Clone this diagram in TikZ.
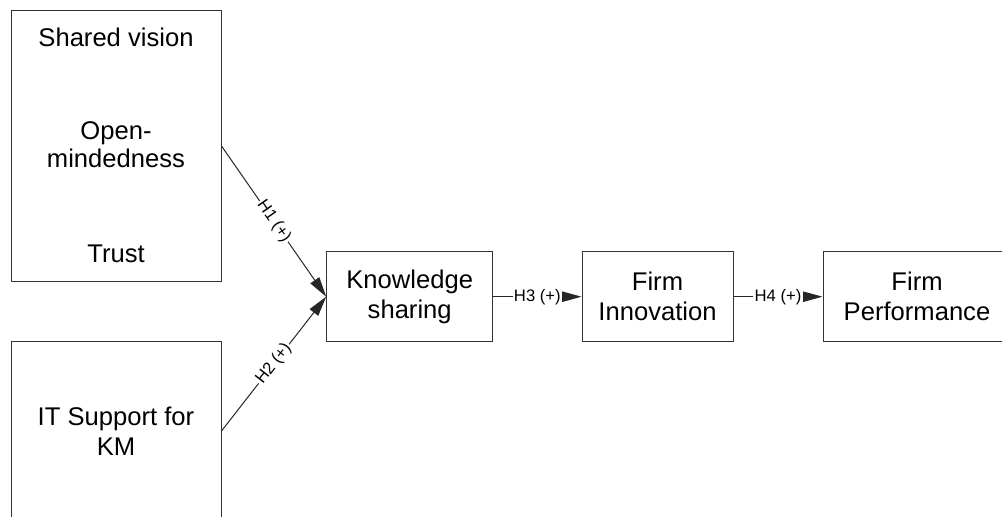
\documentclass[tikz,border=0pt]{standalone}
\usepackage{fontspec}
\setmainfont{Liberation Sans}
\usetikzlibrary{arrows.meta}

\begin{document}
\begin{tikzpicture}[x=0.75pt, y=-0.75pt,
        box/.style={draw=black!80, line width=0.75pt, inner sep=0pt, align=center,
            font=\fontsize{19.2}{22.5}\selectfont},
        txt/.style={inner sep=0pt, align=center, font=\fontsize{19.2}{21}\selectfont},
        hyp/.style={draw=black!85, line width=0.75pt, -{Triangle[length=15pt,width=8pt]}},
        hlabel/.style={fill=white, inner sep=1pt, font=\fontsize{12.5}{14}\selectfont}]
            % Page frame
            \clip (0,0) rectangle (1002,517);

            % Antecedents
            \node[box, minimum width=157.5pt, minimum height=202.5pt] (vision) at (116,146) {};
            \node[txt, anchor=base] (shared) at (116,47) {Shared vision};
            \node[txt, anchor=base] (open) at (116,167) {Open-\\mindedness};
            \node[txt, anchor=base] (trust) at (116,262) {Trust};

            \node[box, minimum width=157.5pt, minimum height=135pt] (itkm) at (116,431) {IT Support for\\KM};

            % Mediators and outcome
            \node[box, minimum width=124.5pt, minimum height=67.5pt] (ks) at (409.7,296.7) {Knowledge\\sharing};
            \node[box, minimum width=113.25pt, minimum height=67.5pt] (fi) at (657.5,296.7) {Firm\\Innovation};
            \node[box, minimum width=141pt, minimum height=67.5pt] (fp) at (917,296.7) {Firm\\Performance};

            % Hypotheses
            \draw[hyp] (vision.east) -- (ks.west) node[hlabel, midway, sloped] {H1 (+)};
            \draw[hyp] (itkm.east) -- (ks.west) node[hlabel, midway, sloped] {H2 (+)};
            \draw[hyp] (ks.east) -- (fi.west) node[hlabel, midway] {H3 (+)};
            \draw[hyp] (fi.east) -- (fp.west) node[hlabel, midway] {H4 (+)};
        \end{tikzpicture}
\end{document}
